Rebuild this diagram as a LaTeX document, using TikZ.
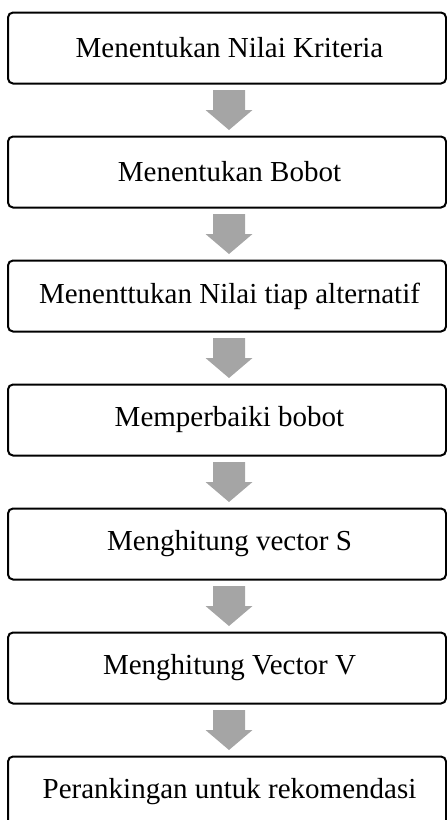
\documentclass[tikz,border=0pt]{standalone}
\usepackage{fontspec}
\setmainfont{Liberation Serif}
\begin{document}
\begin{tikzpicture}[x=1pt,y=-1pt,
  stepbox/.style={draw, line width=2pt, rounded corners=5pt, minimum width=438pt,
    minimum height=71pt, inner sep=0pt, anchor=north,
    font=\fontsize{29}{33}\selectfont},
  blockarrow/.style={fill=arrowgray, draw=none}]
\definecolor{arrowgray}{RGB}{165,165,165}
\useasboundingbox (0,0) rectangle (447,820);
\node[stepbox] (b1) at (227,11.5) {\hspace*{5pt}Menentukan Nilai Kriteria};
\node[stepbox] (b2) at (227,135.5) {\hspace*{5pt}Menentukan Bobot};
\node[stepbox] (b3) at (227,259.5) {\hspace*{5pt}Menenttukan Nilai tiap alternatif};
\node[stepbox] (b4) at (227,383.5) {\hspace*{5pt}Memperbaiki bobot};
\node[stepbox] (b5) at (227,507.5) {\hspace*{5pt}Menghitung vector S};
\node[stepbox] (b6) at (227,631.5) {\hspace*{5pt}Menghitung Vector V};
\node[stepbox] (b7) at (227,755.5) {\hspace*{5pt}Perankingan untuk rekomendasi};
\foreach \a/\b in {b1/b2,b2/b3,b3/b4,b4/b5,b5/b6,b6/b7}{
  \path (\a.south) -- (\b.north) coordinate[midway] (m\a);
  \fill[blockarrow, shift={(m\a)}] (-14,-20) -- (18,-20) -- (18,0) -- (25.5,0)
     -- (2,20) -- (-21.5,0) -- (-14,0) -- cycle;
}
\end{tikzpicture}
\end{document}
